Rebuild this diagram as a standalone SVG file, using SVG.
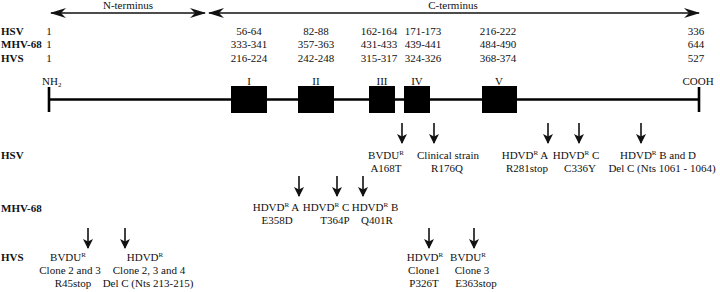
<svg xmlns="http://www.w3.org/2000/svg" width="720" height="292" viewBox="0 0 720 292">
<defs>
<style>
text{font-family:"Liberation Serif","Times New Roman",serif;font-size:11px;fill:#111}
.b{font-weight:bold}
.m{text-anchor:middle}
.sup{font-size:7px}
.top{stroke:#111;stroke-width:1.3;fill:none}
.dn{stroke:#111;stroke-width:1.6;fill:none}
.bar{stroke:#000;stroke-width:2.6;fill:none}
.box{fill:#000}
</style>
<marker id="th" viewBox="0 0 16 10" refX="15" refY="5" markerWidth="16" markerHeight="10" markerUnits="userSpaceOnUse" orient="auto-start-reverse">
<path d="M0,0 L16,5 L0,10 L5,5 Z" fill="#111"/>
</marker>
<marker id="ah" viewBox="0 0 10 10" refX="9" refY="5" markerWidth="10" markerHeight="10" markerUnits="userSpaceOnUse" orient="auto">
<path d="M0,0 L10,5 L0,10 L2.5,5 Z" fill="#111"/>
</marker>
</defs>
<rect width="720" height="292" fill="#fff"/>

<g id="connectors">
<line class="top" x1="51" y1="13" x2="205" y2="13" marker-start="url(#th)" marker-end="url(#th)"/>
<line class="top" x1="209" y1="13" x2="699" y2="13" marker-start="url(#th)" marker-end="url(#th)"/>
<g class="arrows-hsv">
<line class="dn" x1="402" y1="123" x2="402" y2="143" marker-end="url(#ah)"/>
<line class="dn" x1="434" y1="123" x2="434" y2="143" marker-end="url(#ah)"/>
<line class="dn" x1="548" y1="123" x2="548" y2="143" marker-end="url(#ah)"/>
<line class="dn" x1="579" y1="123" x2="579" y2="143" marker-end="url(#ah)"/>
<line class="dn" x1="641" y1="123" x2="641" y2="143" marker-end="url(#ah)"/>
</g>
<g class="arrows-mhv">
<line class="dn" x1="299" y1="176" x2="299" y2="196" marker-end="url(#ah)"/>
<line class="dn" x1="337" y1="176" x2="337" y2="196" marker-end="url(#ah)"/>
<line class="dn" x1="363" y1="176" x2="363" y2="196" marker-end="url(#ah)"/>
</g>
<g class="arrows-hvs">
<line class="dn" x1="88" y1="228" x2="88" y2="248" marker-end="url(#ah)"/>
<line class="dn" x1="125" y1="228" x2="125" y2="248" marker-end="url(#ah)"/>
<line class="dn" x1="429" y1="228" x2="429" y2="248" marker-end="url(#ah)"/>
<line class="dn" x1="474" y1="228" x2="474" y2="248" marker-end="url(#ah)"/>
</g>
</g>

<g id="terminus-labels">
<text class="m" x="128" y="9">N-terminus</text>
<text class="m" x="453" y="9">C-terminus</text>
</g>

<g id="residue-table">
<text class="b" x="1" y="34.5">HSV</text>
<text class="b" x="1" y="48">MHV-68</text>
<text class="b" x="1" y="61.5">HVS</text>
<text class="m" x="49" y="34.5">1</text>
<text class="m" x="49" y="48">1</text>
<text class="m" x="49" y="61.5">1</text>
<text class="m" x="249" y="34.5">56-64</text>
<text class="m" x="249" y="48">333-341</text>
<text class="m" x="249" y="61.5">216-224</text>
<text class="m" x="316" y="34.5">82-88</text>
<text class="m" x="316" y="48">357-363</text>
<text class="m" x="316" y="61.5">242-248</text>
<text class="m" x="379" y="34.5">162-164</text>
<text class="m" x="379" y="48">431-433</text>
<text class="m" x="379" y="61.5">315-317</text>
<text class="m" x="423" y="34.5">171-173</text>
<text class="m" x="423" y="48">439-441</text>
<text class="m" x="423" y="61.5">324-326</text>
<text class="m" x="498" y="34.5">216-222</text>
<text class="m" x="498" y="48">484-490</text>
<text class="m" x="498" y="61.5">368-374</text>
<text class="m" x="696" y="34.5">336</text>
<text class="m" x="696" y="48">644</text>
<text class="m" x="696" y="61.5">527</text>
</g>

<g id="protein">
<text x="42" y="85">NH<tspan class="sup" dy="2">2</tspan></text>
<text class="m" x="698" y="85">COOH</text>
<line class="bar" x1="49" y1="99.5" x2="699" y2="99.5"/>
<line class="bar" x1="49" y1="87" x2="49" y2="112"/>
<line class="bar" x1="699" y1="87" x2="699" y2="112"/>
</g>

<g id="motif-I"><text class="m" x="249" y="85">I</text><rect class="box" x="231" y="86" width="36" height="27"/></g>
<g id="motif-II"><text class="m" x="316" y="85">II</text><rect class="box" x="298" y="86" width="36" height="27"/></g>
<g id="motif-III"><text class="m" x="382" y="85">III</text><rect class="box" x="369" y="86" width="26" height="27"/></g>
<g id="motif-IV"><text class="m" x="417" y="85">IV</text><rect class="box" x="404" y="86" width="26" height="27"/></g>
<g id="motif-V"><text class="m" x="499" y="85">V</text><rect class="box" x="482" y="86" width="35" height="27"/></g>

<g id="hsv-mutations">
<text class="b" x="1" y="159">HSV</text>
<g id="hsv-bvdu"><text class="m" x="386" y="159">BVDU<tspan class="sup" dy="-4">R</tspan></text><text class="m" x="386" y="172">A168T</text></g>
<g id="hsv-clinical"><text class="m" x="448" y="159">Clinical strain</text><text class="m" x="447" y="172">R176Q</text></g>
<g id="hsv-hdvd-a"><text class="m" x="525" y="159">HDVD<tspan class="sup" dy="-4">R</tspan><tspan dy="4"> A</tspan></text><text class="m" x="527" y="172">R281stop</text></g>
<g id="hsv-hdvd-c"><text class="m" x="576" y="159">HDVD<tspan class="sup" dy="-4">R</tspan><tspan dy="4"> C</tspan></text><text class="m" x="580" y="172">C336Y</text></g>
<g id="hsv-hdvd-bd"><text class="m" x="658" y="159">HDVD<tspan class="sup" dy="-4">R</tspan><tspan dy="4"> B and D</tspan></text><text class="m" x="662" y="172">Del C (Nts 1061 - 1064)</text></g>
</g>

<g id="mhv-mutations">
<text class="b" x="1" y="212">MHV-68</text>
<g id="mhv-hdvd-a"><text class="m" x="276" y="211">HDVD<tspan class="sup" dy="-4">R</tspan><tspan dy="4"> A</tspan></text><text class="m" x="277" y="224">E358D</text></g>
<g id="mhv-hdvd-c"><text class="m" x="326" y="211">HDVD<tspan class="sup" dy="-4">R</tspan><tspan dy="4"> C</tspan></text><text class="m" x="335" y="224">T364P</text></g>
<g id="mhv-hdvd-b"><text class="m" x="375" y="211">HDVD<tspan class="sup" dy="-4">R</tspan><tspan dy="4"> B</tspan></text><text class="m" x="377" y="224">Q401R</text></g>
</g>

<g id="hvs-mutations">
<text class="b" x="1" y="261">HVS</text>
<g id="hvs-bvdu-1"><text class="m" x="68" y="261">BVDU<tspan class="sup" dy="-4">R</tspan></text><text class="m" x="70" y="274">Clone 2 and 3</text><text class="m" x="73" y="287">R45stop</text></g>
<g id="hvs-hdvd-1"><text class="m" x="145" y="261">HDVD<tspan class="sup" dy="-4">R</tspan></text><text class="m" x="149" y="274">Clone 2, 3 and 4</text><text class="m" x="148" y="287">Del C (Nts 213-215)</text></g>
<g id="hvs-hdvd-2"><text class="m" x="425" y="261">HDVD<tspan class="sup" dy="-4">R</tspan></text><text class="m" x="424" y="274">Clone1</text><text class="m" x="424" y="287">P326T</text></g>
<g id="hvs-bvdu-2"><text class="m" x="468" y="261">BVDU<tspan class="sup" dy="-4">R</tspan></text><text class="m" x="472" y="274">Clone 3</text><text class="m" x="476" y="287">E363stop</text></g>
</g>
</svg>
